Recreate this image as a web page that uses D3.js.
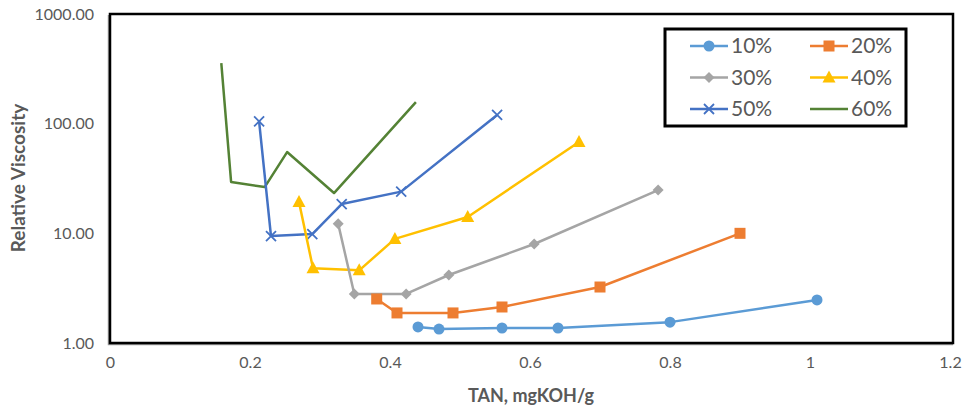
<!DOCTYPE html>
<html><head><meta charset="utf-8">
<script src="https://cdn.jsdelivr.net/npm/d3@7"></script>
<style>body{margin:0;background:#fff}svg{display:block}</style>
</head><body>
<script>
const seriesNames = ["10%","20%","30%","40%","50%","60%"];
const colors = ["#5B9BD5","#ED7D31","#A5A5A5","#FFC000","#4472C4","#548235"];
const markers = ["circle","square","diamond","triangle","x","none"];
const tan10 = [0.44,0.47,0.56,0.64,0.80,1.01];
const vis10 = [1.40,1.34,1.37,1.37,1.55,2.47];
const tan20 = [0.381,0.41,0.49,0.56,0.70,0.90];
const vis20 = [2.52,1.88,1.88,2.13,3.24,10.0];
const tan30 = [0.326,0.349,0.423,0.484,0.606,0.783];
const vis30 = [12.2,2.80,2.80,4.17,7.99,24.8];
const tan40 = [0.27,0.29,0.356,0.407,0.511,0.67];
const vis40 = [19.3,4.8,4.6,8.9,14.1,68];
const tan50 = [0.213,0.23,0.289,0.331,0.416,0.553];
const vis50 = [105,9.45,9.85,18.5,24.0,120];
const tan60 = [0.159,0.173,0.221,0.253,0.32,0.437];
const vis60 = [357,29.4,26.4,55.1,23.3,157];
const xTicks = [0,0.2,0.4,0.6,0.8,1,1.2];
const yTicks = [1,10,100,1000];

const tans = [tan10,tan20,tan30,tan40,tan50,tan60];
const viss = [vis10,vis20,vis30,vis40,vis50,vis60];

const W=966,H=411;
const L=110,R=950,T=14,B=343;
const svg=d3.select("body").append("svg").attr("width",W).attr("height",H);
const x=d3.scaleLinear().domain([0,1.2]).range([L,R]);
const y=d3.scaleLog().domain([1,1000]).range([B,T]);
const font="Lato, 'Open Sans', sans-serif";
const txt="#595959";

// frame shadow + border
svg.append("path").attr("d",`M${L-1.5},${T+1} V${B+1.5} H${953}`).attr("fill","none").attr("stroke","#9a9a9a").attr("stroke-width",1.5);
svg.append("rect").attr("x",L).attr("y",T).attr("width",953-L).attr("height",B-T)
  .attr("fill","none").attr("stroke","#000").attr("stroke-width",2.5);

// y ticks
svg.append("g").attr("transform",`translate(${L},0)`)
  .call(d3.axisLeft(y).tickValues(yTicks).tickFormat(d3.format(".2f")).tickSize(0).tickPadding(16))
  .call(g=>g.select(".domain").remove())
  .call(g=>g.selectAll("text").attr("fill",txt).attr("font-family",font).attr("font-size",16));
// x ticks
svg.append("g").attr("transform",`translate(0,${B})`)
  .call(d3.axisBottom(x).tickValues(xTicks).tickFormat(d=>String(d)).tickSize(0).tickPadding(14))
  .call(g=>g.select(".domain").remove())
  .call(g=>g.selectAll("text").attr("fill",txt).attr("font-family",font).attr("font-size",16));

// titles
svg.append("text").attr("x",531).attr("y",402).attr("text-anchor","middle")
  .attr("font-family",font).attr("font-weight","bold").attr("font-size",18).attr("fill",txt).text("TAN, mgKOH/g");
svg.append("text").attr("transform","translate(25,178) rotate(-90)").attr("text-anchor","middle")
  .attr("font-family",font).attr("font-weight","bold").attr("font-size",19).attr("fill",txt).text("Relative Viscosity");

function drawMarker(g,type,cx,cy,col){
  if(type==="circle") g.append("circle").attr("cx",cx).attr("cy",cy).attr("r",5.5).attr("fill",col);
  else if(type==="square") g.append("rect").attr("x",cx-5.5).attr("y",cy-5.5).attr("width",11).attr("height",11).attr("fill",col);
  else if(type==="diamond") g.append("path").attr("d",`M${cx},${cy-5.5}L${cx+5.5},${cy}L${cx},${cy+5.5}L${cx-5.5},${cy}Z`).attr("fill",col);
  else if(type==="triangle") g.append("path").attr("d",`M${cx},${cy-7}L${cx+6.5},${cy+5}L${cx-6.5},${cy+5}Z`).attr("fill",col);
  else if(type==="x") g.append("path").attr("d",`M${cx-5},${cy-5}L${cx+5},${cy+5}M${cx-5},${cy+5}L${cx+5},${cy-5}`).attr("stroke",col).attr("stroke-width",1.8);
}

const line=d3.line().x(d=>x(d[0])).y(d=>y(d[1]));
const plot=svg.append("g");
for(let i=seriesNames.length-1;i>=0;i--){
  const pts=tans[i].map((t,j)=>[t,viss[i][j]]);
  const g=plot.append("g");
  g.append("path").datum(pts).attr("d",line).attr("fill","none").attr("stroke",colors[i]).attr("stroke-width",2.5).attr("stroke-linejoin","round");
  pts.forEach(p=>drawMarker(g,markers[i],x(p[0]),y(p[1]),colors[i]));
}

// legend
const lg=svg.append("g");
lg.append("rect").attr("x",665).attr("y",29).attr("width",241).attr("height",97).attr("fill","#fff").attr("stroke","#000").attr("stroke-width",3);
seriesNames.forEach((n,i)=>{
  const col=i%2, row=Math.floor(i/2);
  const lx=690+col*120, ly=46+row*31.5;
  lg.append("line").attr("x1",lx).attr("x2",lx+38).attr("y1",ly).attr("y2",ly).attr("stroke",colors[i]).attr("stroke-width",2.5);
  drawMarker(lg,markers[i],lx+19,ly,colors[i]);
  lg.append("text").attr("x",lx+41).attr("y",ly+7).attr("font-family",font).attr("font-size",21).attr("fill",txt).text(n);
});
</script>
</body></html>
